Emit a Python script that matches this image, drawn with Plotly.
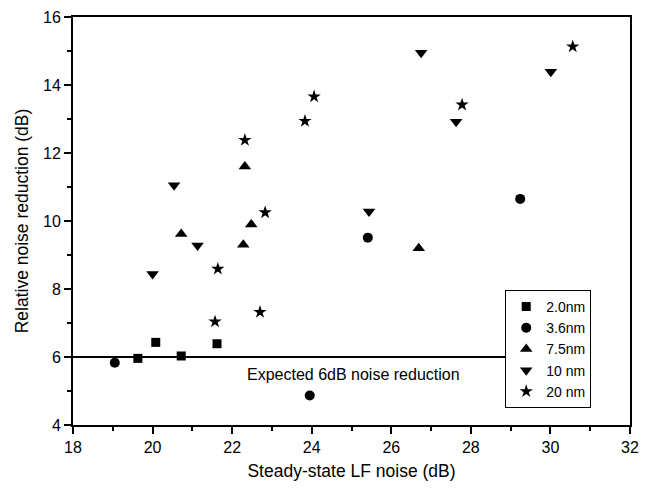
import plotly.graph_objects as go

# Data
x_20 = [19.63, 20.08, 20.72, 21.62]
y_20 = [5.96, 6.43, 6.03, 6.39]

x_36 = [19.05, 23.95, 25.41, 29.24]
y_36 = [5.83, 4.87, 9.51, 10.65]

x_75 = [20.72, 22.28, 22.32, 22.48, 26.69]
y_75 = [9.62, 9.30, 11.60, 9.90, 9.20]

x_10 = [20.00, 20.54, 21.13, 25.44, 26.75, 27.63, 30.01]
y_10 = [8.44, 11.05, 9.28, 10.28, 14.95, 12.92, 14.39]

x_200 = [21.57, 21.64, 22.32, 22.70, 22.83, 23.83, 24.06, 27.78, 30.56]
y_200 = [7.04, 8.59, 12.38, 7.32, 10.25, 12.94, 13.66, 13.42, 15.13]

series_names = ["2.0nm", "3.6nm", "7.5nm", "10 nm", "20 nm"]

line_x = [18, 28.86]
line_y = [6, 6]

FONT = "Liberation Sans, Arial, sans-serif"

fig = go.Figure()

fig.add_trace(go.Scatter(x=line_x, y=line_y, mode="lines",
                         line=dict(color="black", width=2), showlegend=False,
                         hoverinfo="skip"))

specs = [
    (x_20, y_20, "square", 9),
    (x_36, y_36, "circle", 10),
    (x_75, y_75, "triangle-up", 11),
    (x_10, y_10, "triangle-down", 11),
    (x_200, y_200, "star", 10),
]
for (xs, ys, sym, sz), name in zip(specs, series_names):
    fig.add_trace(go.Scatter(x=xs, y=ys, mode="markers", name=name,
                             marker=dict(symbol=sym, size=sz, color="black",
                                         line=dict(width=0))))

fig.add_annotation(x=22.33, y=5.48, xanchor="left", text="Expected 6dB noise reduction",
                   showarrow=False, font=dict(family=FONT, size=16, color="black"))

axis_common = dict(
    showgrid=False, zeroline=False, showline=True, linecolor="black", linewidth=2,
    mirror=True, ticks="outside", ticklen=7, tickwidth=1.5, tickcolor="black",
    tickfont=dict(family=FONT, size=16, color="black"),
)

fig.update_xaxes(range=[18, 32], dtick=2, tick0=18,
                 title=dict(text="Steady-state LF noise (dB)",
                            font=dict(family=FONT, size=17.5, color="black"), standoff=10),
                 minor=dict(dtick=1, ticklen=4, tickcolor="black", tickwidth=1.5, ticks="outside"),
                 **axis_common)
fig.update_yaxes(range=[4, 16], dtick=2, tick0=4,
                 title=dict(text="Relative noise reduction (dB)",
                            font=dict(family=FONT, size=17.5, color="black"), standoff=10),
                 minor=dict(dtick=1, ticklen=4, tickcolor="black", tickwidth=1.5, ticks="outside"),
                 **axis_common)

fig.update_layout(
    width=648, height=492,
    margin=dict(l=73, r=9, t=11, b=67),
    paper_bgcolor="white", plot_bgcolor="white",
    font=dict(family=FONT, color="black"),
    legend=dict(x=0.776, y=0.331, xanchor="left", yanchor="top",
                bordercolor="black", borderwidth=1, bgcolor="white",
                font=dict(family=FONT, size=14, color="black"),
                itemwidth=30, tracegroupgap=0),
)

fig.write_html("out.html")
